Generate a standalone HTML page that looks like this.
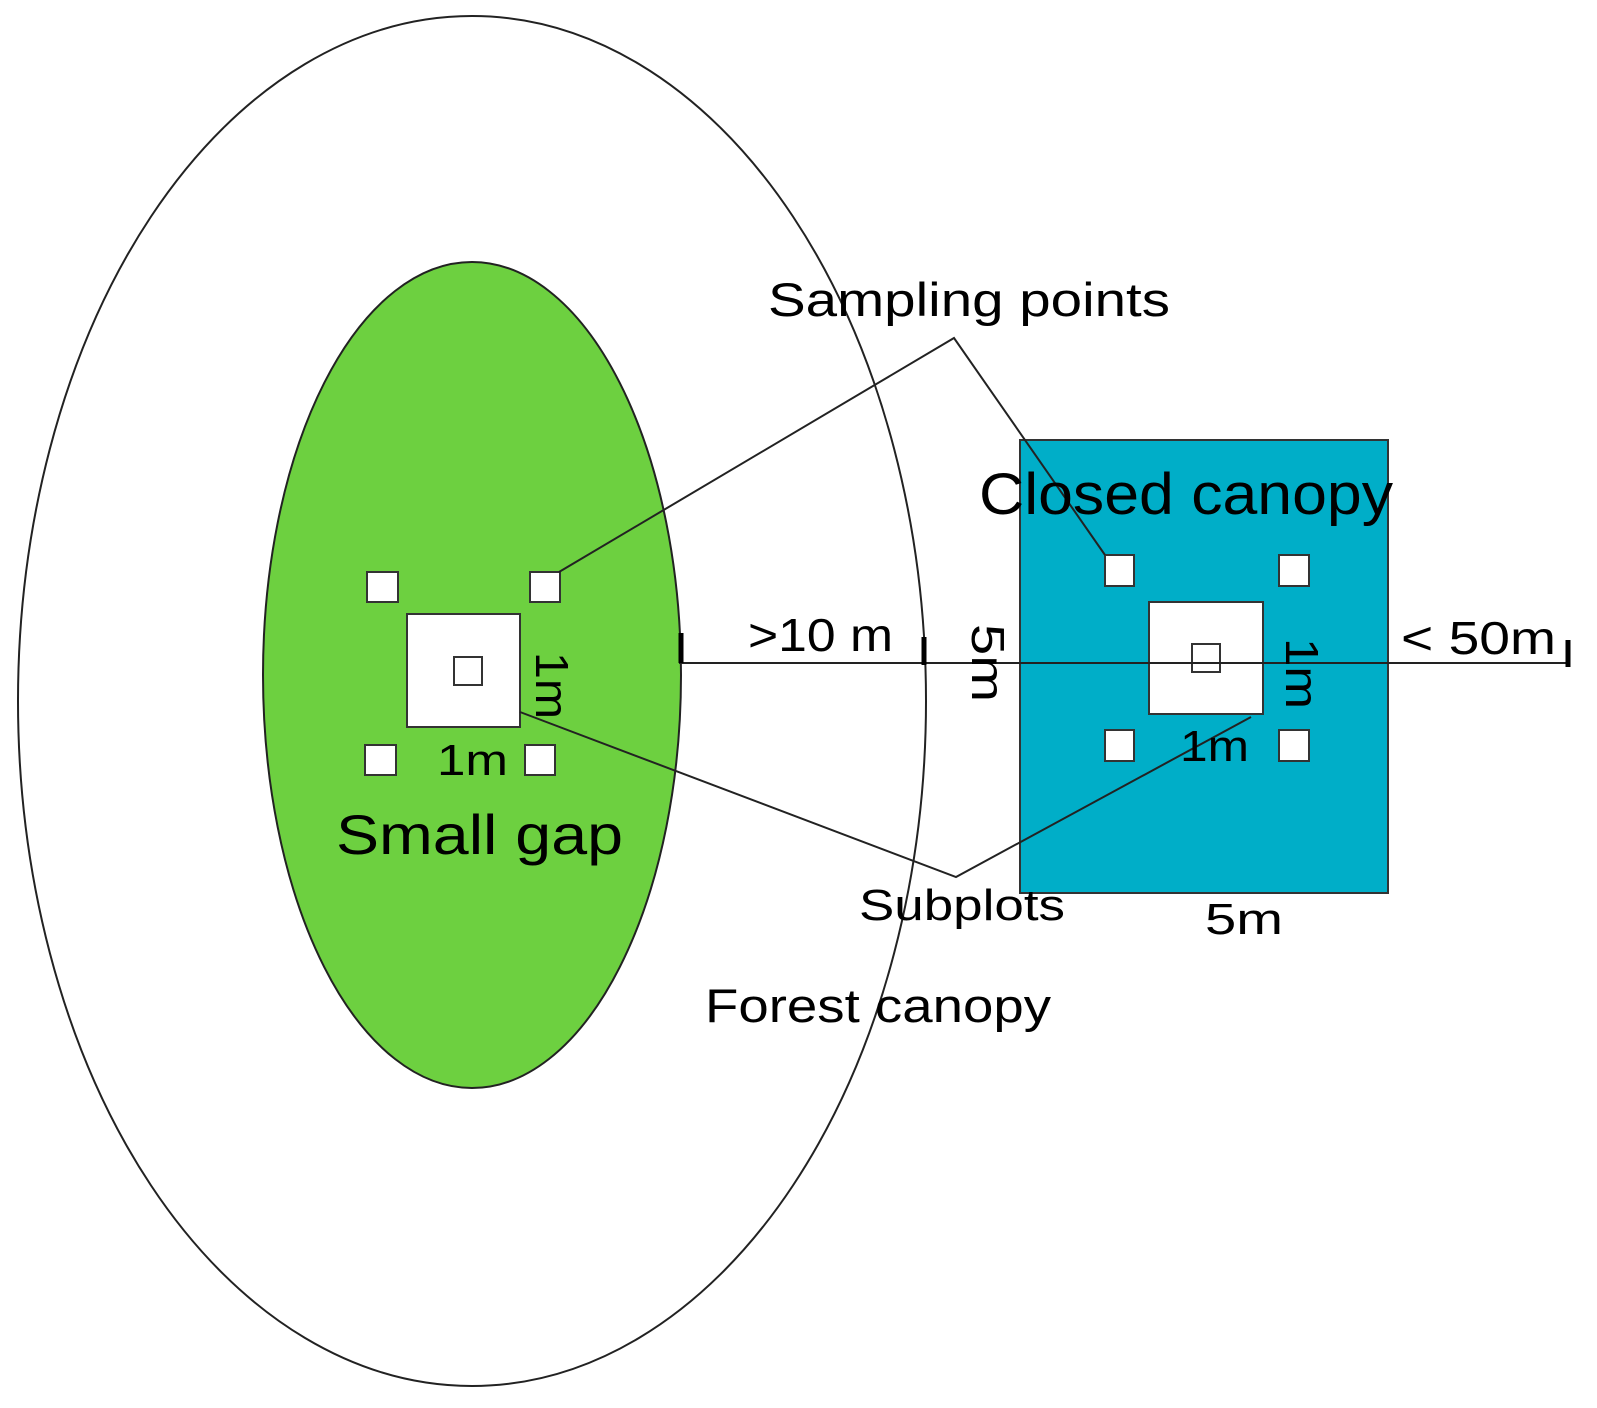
<!DOCTYPE html>
<html><head><meta charset="utf-8"><style>html,body{margin:0;padding:0;background:#fff}svg{display:block}text{font-family:"Liberation Sans",Arial,sans-serif;fill:#000}</style></head>
<body>
<svg width="1597" height="1408" viewBox="0 0 1597 1408" xmlns="http://www.w3.org/2000/svg">
<rect width="1597" height="1408" fill="#fff"/>
<ellipse cx="472" cy="701" rx="454" ry="685" fill="none" stroke="#222" stroke-width="2"/>
<ellipse cx="472" cy="675" rx="209" ry="413" fill="#6dd040" stroke="#222" stroke-width="2"/>
<rect x="1020" y="440" width="368" height="453" fill="#00aec8" stroke="#333" stroke-width="2"/>
<g fill="#fff" stroke="#333" stroke-width="2">
<rect x="407" y="614" width="113" height="113"/>
<rect x="454" y="657" width="28" height="28"/>
<rect x="367" y="572" width="31" height="30"/>
<rect x="530" y="572" width="30" height="30"/>
<rect x="365" y="745" width="31" height="30"/>
<rect x="525" y="745" width="30" height="30"/>
<rect x="1149" y="602" width="114" height="112"/>
<rect x="1192" y="644" width="28" height="28"/>
<rect x="1105" y="555" width="29" height="31"/>
<rect x="1279" y="555" width="30" height="31"/>
<rect x="1105" y="730" width="29" height="31"/>
<rect x="1279" y="730" width="30" height="31"/>
</g>
<g stroke="#222" stroke-width="2" fill="none">
<line x1="679" y1="663" x2="1568" y2="663"/>
<polyline points="559,572 954,338 1105,555"/>
<polyline points="520,712 956,877 1251,717"/>
</g>
<g stroke="#000" stroke-width="5">
<line x1="681" y1="633" x2="681" y2="663"/>
<line x1="924" y1="637" x2="924" y2="665"/>
<line x1="1568" y1="640" x2="1568" y2="667"/>
</g>
<g style="" >
<text x="768" y="316" font-size="47" textLength="402" lengthAdjust="spacingAndGlyphs">Sampling points</text>
<text x="979" y="514" font-size="58" textLength="414" lengthAdjust="spacingAndGlyphs">Closed canopy</text>
<text x="336" y="854" font-size="56" textLength="287" lengthAdjust="spacingAndGlyphs">Small gap</text>
<text x="748" y="651" font-size="46" textLength="145" lengthAdjust="spacingAndGlyphs">&gt;10 m</text>
<text x="1401" y="654" font-size="46" textLength="155" lengthAdjust="spacingAndGlyphs">&lt; 50m</text>
<text x="437" y="775" font-size="44" textLength="71" lengthAdjust="spacingAndGlyphs">1m</text>
<text x="1180" y="761" font-size="44" textLength="69" lengthAdjust="spacingAndGlyphs">1m</text>
<text x="859" y="920" font-size="44" textLength="206" lengthAdjust="spacingAndGlyphs">Subplots</text>
<text x="1205" y="934" font-size="44" textLength="78" lengthAdjust="spacingAndGlyphs">5m</text>
<text x="705" y="1022" font-size="47" textLength="346" lengthAdjust="spacingAndGlyphs">Forest canopy</text>
<text transform="translate(536,686) rotate(90)" x="-34" font-size="46" textLength="67" lengthAdjust="spacingAndGlyphs">1m</text>
<text transform="translate(1286,674) rotate(90)" x="-36" font-size="46" textLength="71" lengthAdjust="spacingAndGlyphs">1m</text>
<text transform="translate(972,663) rotate(90)" x="-39" font-size="46" textLength="78" lengthAdjust="spacingAndGlyphs">5m</text>
</g>
</svg>
</body></html>
